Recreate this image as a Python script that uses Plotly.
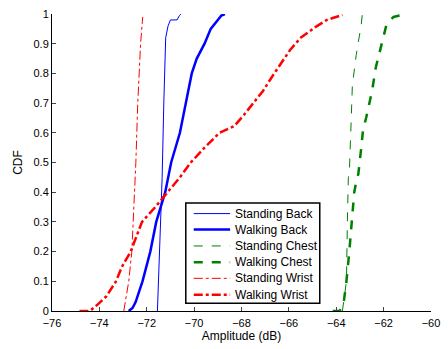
import plotly.graph_objects as go

# Standing Back (thin blue)
sb_x = [-71.55, -71.48, -71.42, -71.35, -71.28, -71.2, -71.1, -71.0, -70.85, -70.72, -70.62, -70.55]
sb_y = [0.0, 0.15, 0.3, 0.45, 0.7, 0.92, 0.96, 0.98, 0.98, 0.98, 0.995, 1.0]

# Walking Back (thick blue)
wb_x = [-72.76, -72.6, -72.47, -72.18, -71.85, -71.6, -71.22, -71.1, -70.97, -70.6, -70.35, -70.1, -69.89, -69.56, -69.3, -69.0, -68.85, -68.7]
wb_y = [0.0, 0.01, 0.03, 0.1, 0.2, 0.3, 0.4, 0.45, 0.5, 0.6, 0.7, 0.8, 0.85, 0.9, 0.95, 0.98, 0.995, 1.0]

# Standing Chest (thin green dashed)
sc_x = [-63.74, -63.57, -63.53, -63.49, -63.45, -63.4, -63.36, -63.32, -63.24, -63.16, -63.07, -62.95, -62.9]
sc_y = [0.0, 0.1, 0.3, 0.45, 0.46, 0.545, 0.665, 0.76, 0.82, 0.86, 0.905, 0.96, 1.0]

# Walking Chest (thick green dashed)
wc_x = [-64.15, -63.86, -63.7, -63.57, -63.45, -63.36, -63.24, -63.12, -63.07, -62.95, -62.87, -62.74, -62.6, -62.49, -62.33, -62.12, -62.0, -61.87, -61.58, -61.04]
wc_y = [0.0, 0.0, 0.02, 0.1, 0.2, 0.3, 0.4, 0.45, 0.46, 0.545, 0.61, 0.65, 0.7, 0.74, 0.82, 0.885, 0.93, 0.967, 0.99, 1.0]

# Standing Wrist (thin red dash-dot)
sw_x = [-72.97, -72.76, -72.63, -72.5, -72.46, -72.38, -72.26, -72.17]
sw_y = [0.0, 0.1, 0.2, 0.4, 0.5, 0.7, 0.9, 0.99]

# Walking Wrist (thick red dash-dot)
ww_x = [-74.84, -74.4, -74.1, -73.7, -73.3, -73.04, -72.68, -72.2, -71.64, -71.1, -70.6, -70.14, -69.56, -68.93, -68.3, -67.9, -67.5, -67.1, -66.7, -66.36, -65.94, -65.5, -64.9, -64.4, -63.74]
ww_y = [0.0, 0.0, 0.02, 0.05, 0.1, 0.15, 0.2, 0.3, 0.35, 0.4, 0.45, 0.5, 0.55, 0.6, 0.623, 0.66, 0.7, 0.74, 0.79, 0.83, 0.88, 0.92, 0.955, 0.98, 0.997]

x_ticks = [-76, -74, -72, -70, -68, -66, -64, -62, -60]
y_ticks = [0, 0.1, 0.2, 0.3, 0.4, 0.5, 0.6, 0.7, 0.8, 0.9, 1]
y_tick_labels = ["0", "0.1", "0.2", "0.3", "0.4", "0.5", "0.6", "0.7", "0.8", "0.9", "1"]

BLUE = "#0000ff"
GREEN = "#008000"
RED = "#ff0000"

series = [
    ("Standing Back", sb_x, sb_y, BLUE, 1, "solid"),
    ("Walking Back", wb_x, wb_y, BLUE, 2.5, "solid"),
    ("Standing Chest", sc_x, sc_y, GREEN, 1, "dash"),
    ("Walking Chest", wc_x, wc_y, GREEN, 2.5, "dash"),
    ("Standing Wrist", sw_x, sw_y, RED, 1, "dashdot"),
    ("Walking Wrist", ww_x, ww_y, RED, 2.5, "dashdot"),
]

fig = go.Figure()
for name, xs, ys, col, w, dash in series:
    fig.add_trace(go.Scatter(x=xs, y=ys, mode="lines", name=name, showlegend=False,
                             line=dict(color=col, width=w, dash=dash)))

# Custom legend (paper coordinates) to match the compact MATLAB-style box
leg_x0, leg_x1 = 0.353, 0.7065
leg_y0, leg_y1 = 0.026, 0.364
line_x0, line_x1 = 0.374, 0.470
text_x = 0.478
row_y = [0.328, 0.274, 0.219, 0.164, 0.110, 0.055]

shapes = [dict(type="rect", xref="paper", yref="paper", x0=leg_x0, x1=leg_x1,
               y0=leg_y0, y1=leg_y1, line=dict(color="black", width=1.5),
               fillcolor="white", layer="above")]
annotations = []
for (name, xs, ys, col, w, dash), yy in zip(series, row_y):
    shapes.append(dict(type="line", xref="paper", yref="paper", x0=line_x0, x1=line_x1,
                       y0=yy, y1=yy, line=dict(color=col, width=w, dash=dash), layer="above"))
    annotations.append(dict(xref="paper", yref="paper", x=text_x, y=yy, text=name,
                            showarrow=False, xanchor="left", yanchor="middle",
                            font=dict(size=12, color="black")))

font_family = "Liberation Sans, Arial, sans-serif"
fig.update_layout(
    width=448, height=349,
    margin=dict(l=52, r=11, t=8, b=36),
    paper_bgcolor="white", plot_bgcolor="white",
    font=dict(family=font_family, size=11, color="black"),
    showlegend=False,
    shapes=shapes,
    annotations=annotations,
)
fig.update_xaxes(range=[-76, -60], tickvals=x_ticks, ticks="inside", ticklen=4,
                 ticklabelstandoff=2,
                 showline=True, linecolor="black", linewidth=1, showgrid=False,
                 zeroline=False, title=dict(text="Amplitude (dB)", standoff=3,
                                            font=dict(size=12)),
                 tickfont=dict(size=11))
fig.update_yaxes(range=[0, 1], tickvals=y_ticks, ticktext=y_tick_labels,
                 ticks="inside", ticklen=4,
                 showline=True, linecolor="black", linewidth=1, showgrid=False,
                 zeroline=False, title=dict(text="CDF", standoff=8, font=dict(size=12)),
                 tickfont=dict(size=11))

fig.write_html("out.html")
